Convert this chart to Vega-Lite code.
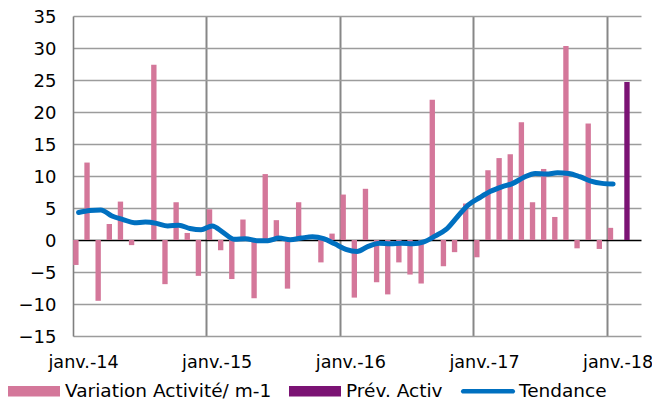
{
  "$schema": "https://vega.github.io/schema/vega-lite/v6.json",
  "autosize": "none",
  "width": 568,
  "height": 320,
  "padding": {"left": 73, "top": 16, "right": 11, "bottom": 67},
  "background": "white",
  "config": {
    "font": "DejaVu Sans",
    "view": {"stroke": null},
    "axis": {"labelFont": "DejaVu Sans", "labelFontSize": 18, "labelColor": "#000000"}
  },
  "data": {
    "values": [
      {"m": "2014-01", "s": "Variation Activité/ m-1", "v": -3.9},
      {"m": "2014-02", "s": "Variation Activité/ m-1", "v": 12.1},
      {"m": "2014-03", "s": "Variation Activité/ m-1", "v": -9.5},
      {"m": "2014-04", "s": "Variation Activité/ m-1", "v": 2.5},
      {"m": "2014-05", "s": "Variation Activité/ m-1", "v": 6.0},
      {"m": "2014-06", "s": "Variation Activité/ m-1", "v": -0.8},
      {"m": "2014-07", "s": "Variation Activité/ m-1", "v": 0},
      {"m": "2014-08", "s": "Variation Activité/ m-1", "v": 27.4},
      {"m": "2014-09", "s": "Variation Activité/ m-1", "v": -6.9},
      {"m": "2014-10", "s": "Variation Activité/ m-1", "v": 5.9},
      {"m": "2014-11", "s": "Variation Activité/ m-1", "v": 1.1},
      {"m": "2014-12", "s": "Variation Activité/ m-1", "v": -5.6},
      {"m": "2015-01", "s": "Variation Activité/ m-1", "v": 4.8},
      {"m": "2015-02", "s": "Variation Activité/ m-1", "v": -1.6},
      {"m": "2015-03", "s": "Variation Activité/ m-1", "v": -6.1},
      {"m": "2015-04", "s": "Variation Activité/ m-1", "v": 3.2},
      {"m": "2015-05", "s": "Variation Activité/ m-1", "v": -9.1},
      {"m": "2015-06", "s": "Variation Activité/ m-1", "v": 10.3},
      {"m": "2015-07", "s": "Variation Activité/ m-1", "v": 3.1},
      {"m": "2015-08", "s": "Variation Activité/ m-1", "v": -7.6},
      {"m": "2015-09", "s": "Variation Activité/ m-1", "v": 5.9},
      {"m": "2015-10", "s": "Variation Activité/ m-1", "v": 0},
      {"m": "2015-11", "s": "Variation Activité/ m-1", "v": -3.5},
      {"m": "2015-12", "s": "Variation Activité/ m-1", "v": 1.0},
      {"m": "2016-01", "s": "Variation Activité/ m-1", "v": 7.1},
      {"m": "2016-02", "s": "Variation Activité/ m-1", "v": -9.0},
      {"m": "2016-03", "s": "Variation Activité/ m-1", "v": 8.0},
      {"m": "2016-04", "s": "Variation Activité/ m-1", "v": -6.6},
      {"m": "2016-05", "s": "Variation Activité/ m-1", "v": -8.5},
      {"m": "2016-06", "s": "Variation Activité/ m-1", "v": -3.5},
      {"m": "2016-07", "s": "Variation Activité/ m-1", "v": -5.4},
      {"m": "2016-08", "s": "Variation Activité/ m-1", "v": -6.8},
      {"m": "2016-09", "s": "Variation Activité/ m-1", "v": 21.9},
      {"m": "2016-10", "s": "Variation Activité/ m-1", "v": -4.1},
      {"m": "2016-11", "s": "Variation Activité/ m-1", "v": -1.9},
      {"m": "2016-12", "s": "Variation Activité/ m-1", "v": 5.7},
      {"m": "2017-01", "s": "Variation Activité/ m-1", "v": -2.7},
      {"m": "2017-02", "s": "Variation Activité/ m-1", "v": 10.9},
      {"m": "2017-03", "s": "Variation Activité/ m-1", "v": 12.8},
      {"m": "2017-04", "s": "Variation Activité/ m-1", "v": 13.4},
      {"m": "2017-05", "s": "Variation Activité/ m-1", "v": 18.4},
      {"m": "2017-06", "s": "Variation Activité/ m-1", "v": 5.9},
      {"m": "2017-07", "s": "Variation Activité/ m-1", "v": 11.1},
      {"m": "2017-08", "s": "Variation Activité/ m-1", "v": 3.6},
      {"m": "2017-09", "s": "Variation Activité/ m-1", "v": 30.3},
      {"m": "2017-10", "s": "Variation Activité/ m-1", "v": -1.3},
      {"m": "2017-11", "s": "Variation Activité/ m-1", "v": 18.2},
      {"m": "2017-12", "s": "Variation Activité/ m-1", "v": -1.4},
      {"m": "2018-01", "s": "Variation Activité/ m-1", "v": 1.9},
      {"m": "2018-02", "s": "Prév. Activ", "v": 24.7},
      {"m": "2014-01", "s": "Tendance", "v": 4.3}, {"m": "2014-02", "s": "Tendance", "v": 4.6}, {"m": "2014-03", "s": "Tendance", "v": 4.7},
      {"m": "2014-04", "s": "Tendance", "v": 3.75}, {"m": "2014-05", "s": "Tendance", "v": 3.2}, {"m": "2014-06", "s": "Tendance", "v": 2.7},
      {"m": "2014-07", "s": "Tendance", "v": 2.8}, {"m": "2014-08", "s": "Tendance", "v": 2.6}, {"m": "2014-09", "s": "Tendance", "v": 2.2},
      {"m": "2014-10", "s": "Tendance", "v": 2.3}, {"m": "2014-11", "s": "Tendance", "v": 1.8}, {"m": "2014-12", "s": "Tendance", "v": 1.6},
      {"m": "2015-01", "s": "Tendance", "v": 2.2}, {"m": "2015-02", "s": "Tendance", "v": 1.15}, {"m": "2015-03", "s": "Tendance", "v": 0.1},
      {"m": "2015-04", "s": "Tendance", "v": 0.2}, {"m": "2015-05", "s": "Tendance", "v": -0.1}, {"m": "2015-06", "s": "Tendance", "v": -0.1},
      {"m": "2015-07", "s": "Tendance", "v": 0.3}, {"m": "2015-08", "s": "Tendance", "v": 0.05}, {"m": "2015-09", "s": "Tendance", "v": 0.3},
      {"m": "2015-10", "s": "Tendance", "v": 0.5}, {"m": "2015-11", "s": "Tendance", "v": 0.2}, {"m": "2015-12", "s": "Tendance", "v": -0.6},
      {"m": "2016-01", "s": "Tendance", "v": -1.45}, {"m": "2016-02", "s": "Tendance", "v": -1.8}, {"m": "2016-03", "s": "Tendance", "v": -1.0},
      {"m": "2016-04", "s": "Tendance", "v": -0.5}, {"m": "2016-05", "s": "Tendance", "v": -0.6}, {"m": "2016-06", "s": "Tendance", "v": -0.5},
      {"m": "2016-07", "s": "Tendance", "v": -0.6}, {"m": "2016-08", "s": "Tendance", "v": -0.3}, {"m": "2016-09", "s": "Tendance", "v": 0.6},
      {"m": "2016-10", "s": "Tendance", "v": 1.65}, {"m": "2016-11", "s": "Tendance", "v": 3.6}, {"m": "2016-12", "s": "Tendance", "v": 5.5},
      {"m": "2017-01", "s": "Tendance", "v": 6.6}, {"m": "2017-02", "s": "Tendance", "v": 7.6}, {"m": "2017-03", "s": "Tendance", "v": 8.3},
      {"m": "2017-04", "s": "Tendance", "v": 8.85}, {"m": "2017-05", "s": "Tendance", "v": 9.8}, {"m": "2017-06", "s": "Tendance", "v": 10.4},
      {"m": "2017-07", "s": "Tendance", "v": 10.3}, {"m": "2017-08", "s": "Tendance", "v": 10.5}, {"m": "2017-09", "s": "Tendance", "v": 10.4},
      {"m": "2017-10", "s": "Tendance", "v": 9.9}, {"m": "2017-11", "s": "Tendance", "v": 9.2}, {"m": "2017-12", "s": "Tendance", "v": 8.85},
      {"m": "2018-01", "s": "Tendance", "v": 8.75}
    ]
  },
  "encoding": {
    "x": {
      "field": "m", "type": "ordinal",
      "scale": {
        "paddingInner": 0, "paddingOuter": 0,
        "domain": ["2014-01","2014-02","2014-03","2014-04","2014-05","2014-06","2014-07","2014-08","2014-09","2014-10","2014-11","2014-12",
                   "2015-01","2015-02","2015-03","2015-04","2015-05","2015-06","2015-07","2015-08","2015-09","2015-10","2015-11","2015-12",
                   "2016-01","2016-02","2016-03","2016-04","2016-05","2016-06","2016-07","2016-08","2016-09","2016-10","2016-11","2016-12",
                   "2017-01","2017-02","2017-03","2017-04","2017-05","2017-06","2017-07","2017-08","2017-09","2017-10","2017-11","2017-12",
                   "2018-01","2018-02","2018-03"]
      },
      "axis": {
        "orient": "bottom", "title": null, "domain": false, "ticks": false,
        "grid": true, "bandPosition": 0, "gridWidth": 2,
        "gridColor": {"condition": {"test": "slice(datum.value, 5) === '01' && datum.value !== '2014-01'", "value": "#878787"}, "value": "transparent"},
        "labelAngle": 0, "labelOverlap": false, "labelPadding": 17, "labelOffset": 5, "labelLimit": 200,
        "labelFontSize": 17.6,
        "labelExpr": "slice(datum.value, 5) === '01' ? 'janv.-' + slice(datum.value, 2, 4) : ''"
      }
    },
    "y": {
      "field": "v", "type": "quantitative",
      "scale": {"domain": [-15, 35], "nice": false, "zero": false},
      "axis": {
        "title": null, "values": [-15,-10,-5,0,5,10,15,20,25,30,35],
        "grid": true, "gridWidth": 1.3,
        "gridColor": {"condition": {"test": "datum.value === 0", "value": "#000000"}, "value": "#9c9c9c"},
        "ticks": false, "labelPadding": 17, "labelOffset": 1.5,
        "domain": true, "domainColor": "#7f7f7f", "domainWidth": 1.6
      }
    },
    "color": {
      "field": "s", "type": "nominal",
      "scale": {
        "domain": ["Variation Activité/ m-1", "Prév. Activ", "Tendance"],
        "range": ["#d4779a", "#7b1374", "#0070c0"]
      },
      "legend": {
        "title": null, "orient": "none", "direction": "horizontal",
        "legendX": -65, "legendY": 349,
        "labelFont": "DejaVu Sans", "labelFontSize": 18.5, "labelColor": "#000000", "labelLimit": 400,
        "labelOffset": 5, "columnPadding": 17, "symbolSize": 2704,
        "symbolType": "M-1,-0.2H1V0.2H-1Z", "symbolStrokeWidth": 0,
        "encode": {
          "symbols": {
            "update": {
              "shape": {"signal": "datum.value === 'Tendance' ? 'M-0.95,-0.09H0.95A0.09,0.09 0 0 1 0.95,0.09H-0.95A0.09,0.09 0 0 1 -0.95,-0.09Z' : 'M-1,-0.2H1V0.2H-1Z'"},
              "fill": {"scale": "color", "field": "value"},
              "fillOpacity": {"value": 1},
              "strokeWidth": {"value": 0}
            }
          }
        }
      }
    }
  },
  "layer": [
    {
      "transform": [{"filter": "datum.s !== 'Tendance'"}],
      "mark": {"type": "bar"},
      "encoding": {
        "xOffset": {
          "field": "s", "type": "nominal",
          "scale": {"domain": ["Variation Activité/ m-1", "Prév. Activ"], "paddingInner": 0, "paddingOuter": 0.04}
        }
      }
    },
    {
      "transform": [{"filter": "datum.s === 'Tendance'"}],
      "mark": {"type": "line", "strokeWidth": 5, "interpolate": "monotone", "strokeCap": "round"}
    }
  ]
}
